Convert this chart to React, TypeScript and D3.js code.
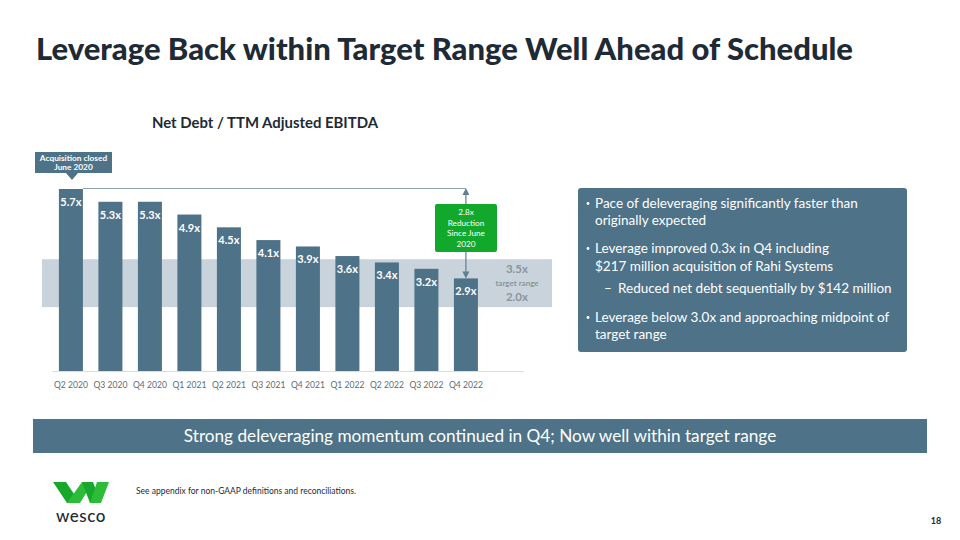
import React from "react";
import * as d3 from "d3";

const categories = ["Q2 2020","Q3 2020","Q4 2020","Q1 2021","Q2 2021","Q3 2021","Q4 2021","Q1 2022","Q2 2022","Q3 2022","Q4 2022"];
const leverage = [5.7,5.3,5.3,4.9,4.5,4.1,3.9,3.6,3.4,3.2,2.9];
const targetRange = [2.0, 3.5];
const bullets = [
  { level: 0, lines: ["Pace of deleveraging significantly faster than", "originally expected"] },
  { level: 0, lines: ["Leverage improved 0.3x in Q4 including", "$217 million acquisition of Rahi Systems"] },
  { level: 1, lines: ["Reduced net debt sequentially by $142 million"] },
  { level: 0, lines: ["Leverage below 3.0x and approaching midpoint of", "target range"] },
];

const BAR = "#4e7288";
const DARK = "#1e2a36";
const FONT = "Lato, 'Noto Sans', sans-serif";

export default function App() {
  const x = d3.scaleBand<string>().domain(categories).range([51, 51 + 11.008 * 39.5]).paddingInner(0.392).paddingOuter(0.2);
  const y = d3.scaleLinear().domain([0, 5.7]).range([371, 189]);
  const bw = x.bandwidth();
  const lastX = (x(categories[categories.length - 1]) as number) + bw / 2;
  const firstX = x(categories[0]) as number;
  const bulletBaselines = [[208, 225], [253, 271], [293], [322, 339]];

  return (
    <svg width={960} height={540} style={{ position: "absolute", left: 0, top: 0, fontFamily: FONT }}>
      <rect width={960} height={540} fill="#fff" />
      <text x={36} y={60} fontSize={31} fontWeight={900} fill={DARK}>Leverage Back within Target Range Well Ahead of Schedule</text>
      <text x={152} y={128} fontSize={14.9} fontWeight={700} fill={DARK}>Net Debt / TTM Adjusted EBITDA</text>

      {/* target band */}
      <rect x={42} y={y(targetRange[1])} width={510} height={y(targetRange[0]) - y(targetRange[1])} fill="#c8d3db" />

      {/* bars */}
      {leverage.map((v, i) => (
        <g key={i}>
          <rect x={x(categories[i])} y={y(v)} width={bw} height={y(0) - y(v)} fill={BAR} />
          <text x={(x(categories[i]) as number) + bw / 2} y={y(v) + 17} textAnchor="middle" fontSize={11} fontWeight={700} fill="#fff">{v.toFixed(1)}x</text>
        </g>
      ))}
      {/* axis */}
      <line x1={52} x2={524} y1={371.5} y2={371.5} stroke="#d7dee4" strokeWidth={1} />
      {categories.map((c) => (
        <text key={c} x={(x(c) as number) + bw / 2} y={388} textAnchor="middle" fontSize={8.6} fill="#5d6b78">{c}</text>
      ))}

      {/* target labels */}
      <text x={517} y={273} textAnchor="middle" fontSize={11.5} fontWeight={700} fill="#8a959f">{targetRange[1].toFixed(1)}x</text>
      <text x={517} y={286} textAnchor="middle" fontSize={8} fontWeight={700} fill="#8a959f">target range</text>
      <text x={517} y={301} textAnchor="middle" fontSize={11.5} fontWeight={700} fill="#8a959f">{targetRange[0].toFixed(1)}x</text>

      {/* reduction connector */}
      <line x1={firstX + bw} x2={lastX} y1={y(leverage[0]) - 0.5} y2={y(leverage[0]) - 0.5} stroke="#8fa5b4" strokeWidth={1.2} />
      <line x1={lastX} x2={lastX} y1={y(leverage[0]) + 2} y2={y(leverage[10]) - 3} stroke="#5f7f93" strokeWidth={1.2} />
      <path d={`M${lastX - 3.5},${y(leverage[0]) + 6} L${lastX},${y(leverage[0]) - 1} L${lastX + 3.5},${y(leverage[0]) + 6} Z`} fill="#5f7f93" />
      <path d={`M${lastX - 3.5},${y(leverage[10]) - 7} L${lastX},${y(leverage[10])} L${lastX + 3.5},${y(leverage[10]) - 7} Z`} fill="#5f7f93" />
      <rect x={435} y={204} width={62} height={48} rx={2} fill="#12a82c" />
      {["2.8x", "Reduction", "Since June", "2020"].map((t, i) => (
        <text key={t} x={466} y={215 + i * 10.5} textAnchor="middle" fontSize={8.2} fill="#fff">{t}</text>
      ))}

      {/* acquisition callout */}
      <rect x={35} y={152} width={77} height={21} fill={BAR} />
      <path d={`M66,173 L72,180 L78,173 Z`} fill={BAR} />
      <text x={73.5} y={160.5} textAnchor="middle" fontSize={8.3} fontWeight={700} fill="#fff">Acquisition closed</text>
      <text x={73.5} y={170} textAnchor="middle" fontSize={8.3} fontWeight={700} fill="#fff">June 2020</text>

      {/* right box */}
      <rect x={578} y={188} width={329} height={164} rx={3} fill={BAR} />
      {bullets.map((b, bi) => (
        <g key={bi}>
          {b.level === 0 ? (
            <circle cx={588} cy={bulletBaselines[bi][0] - 4.5} r={1.4} fill="#fff" />
          ) : (
            <text x={604} y={bulletBaselines[bi][0]} fontSize={13.5} fill="#fff">–</text>
          )}
          {b.lines.map((l, li) => (
            <text key={li} x={b.level === 0 ? 595 : 618} y={bulletBaselines[bi][li]} fontSize={13.5} fill="#fff">{l}</text>
          ))}
        </g>
      ))}

      {/* banner */}
      <rect x={33} y={419} width={894} height={34} fill={BAR} />
      <text x={480} y={442} textAnchor="middle" fontSize={17.2} fill="#fff">Strong deleveraging momentum continued in Q4; Now well within target range</text>

      {/* footer */}
      <text x={136} y={494} fontSize={8.5} fill={DARK}>See appendix for non-GAAP definitions and reconciliations.</text>
      <text x={936} y={524} textAnchor="middle" fontSize={9} fontWeight={700} fill={DARK}>18</text>

      {/* logo */}
      <g>
        <path d="M53,482 L66,482 L80,503 L67,503 Z" fill="#16a82b" />
        <path d="M67,503 L80,503 L93,482 L82,482 Z" fill="#2dbb3a" />
        <path d="M82,482 L93,482 L101,503 L90,503 Z" fill="#16a82b" />
        <path d="M90,503 L101,503 L109,482 L97,482 Z" fill="#2dbb3a" />
        <text x={81} y={522} textAnchor="middle" fontSize={17} fontWeight={500} fill={DARK} letterSpacing={0.5}>wesco</text>
      </g>
    </svg>
  );
}
